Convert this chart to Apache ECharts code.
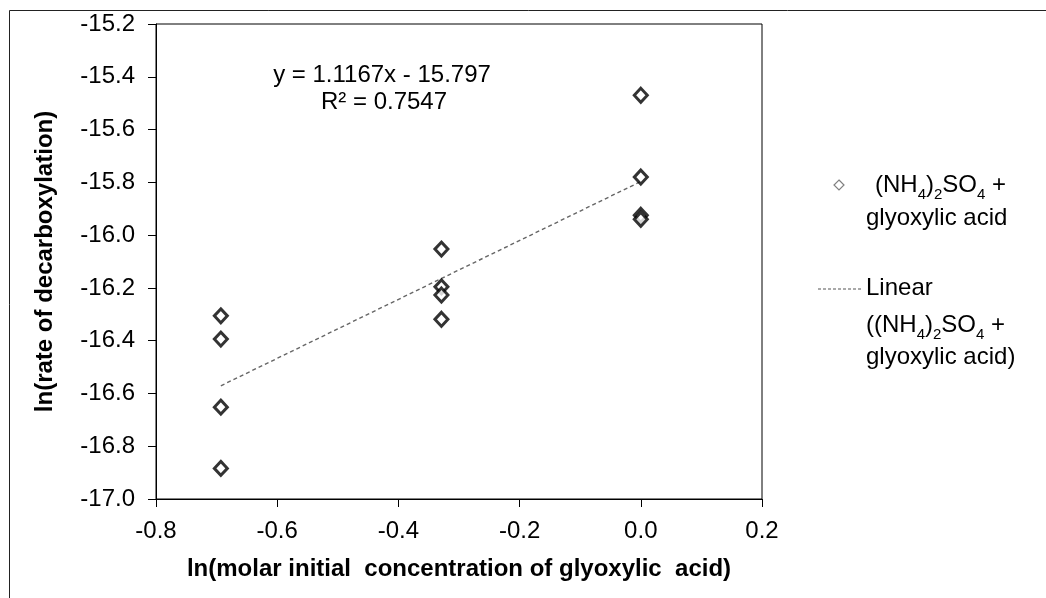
<!DOCTYPE html>
<html><head><meta charset="utf-8">
<script src="https://cdn.jsdelivr.net/npm/echarts@6/dist/echarts.min.js"></script>
<style>html,body{margin:0;padding:0;background:#fff}#c{width:1046px;height:598px}</style>
</head><body><div id="c"></div>
<script>
// Data
const xLn = [-0.693, -0.693, -0.693, -0.693, -0.329, -0.329, -0.329, -0.329, 0, 0, 0, 0];
const yLnRate = [-16.306, -16.394, -16.652, -16.884, -16.053, -16.196, -16.227, -16.319, -15.47, -15.78, -15.925, -15.94];
const trendSlope = 1.1167;
const trendIntercept = -15.797;
const equationLines = ['y = 1.1167x - 15.797', 'R² = 0.7547'];
const xTitle = 'ln(molar initial  concentration of glyoxylic  acid)';
const yTitle = 'ln(rate of decarboxylation)';

const pts = xLn.map((x, i) => [x, yLnRate[i]]);
const xMinD = Math.min(...xLn), xMaxD = Math.max(...xLn);
const trend = [[xMinD, trendSlope * xMinD + trendIntercept], [xMaxD, trendSlope * xMaxD + trendIntercept]];

const FONT = '"Liberation Sans", Arial, sans-serif';
const FS = 24;
const chart = echarts.init(document.getElementById('c'), null, {renderer: 'canvas'});
const rich = {
  n: {fontSize: FS, fontFamily: FONT, color: '#000'},
  s: {fontSize: 15, fontFamily: FONT, color: '#000', verticalAlign: 'bottom', padding: [0, 0, -5, 0]}
};
chart.setOption({
  animation: false,
  backgroundColor: '#fff',
  grid: {left: 156, right: 284, top: 24, bottom: 99, show: true, borderColor: '#000', borderWidth: 1},
  xAxis: {
    type: 'value', min: -0.8, max: 0.2, interval: 0.2,
    name: xTitle, nameLocation: 'middle', nameGap: 58,
    nameTextStyle: {fontFamily: FONT, fontSize: 24, fontWeight: 'bold', color: '#000'},
    axisLine: {show: true, onZero: false, lineStyle: {color: '#000', width: 1}},
    axisTick: {show: true, inside: false, length: 8, lineStyle: {color: '#000'}},
    axisLabel: {fontFamily: FONT, fontSize: FS, color: '#000', margin: 20, formatter: v => v.toFixed(1)},
    splitLine: {show: false}
  },
  yAxis: {
    type: 'value', min: -17, max: -15.2, interval: 0.2,
    name: yTitle, nameLocation: 'middle', nameGap: 99,
    nameTextStyle: {fontFamily: FONT, fontSize: 24, fontWeight: 'bold', color: '#000'},
    axisLine: {show: true, onZero: false, lineStyle: {color: '#000', width: 1}},
    axisTick: {show: true, inside: false, length: 8, lineStyle: {color: '#000'}},
    axisLabel: {fontFamily: FONT, fontSize: FS, color: '#000', margin: 21, formatter: v => v.toFixed(1)},
    splitLine: {show: false}
  },
  series: [
    {
      type: 'line', data: trend, symbol: 'none', silent: true, z: 1,
      lineStyle: {color: '#666', width: 1.4, type: [4, 3]}
    },
    {
      type: 'scatter', data: pts, symbol: 'diamond', symbolSize: [13, 14], z: 3,
      itemStyle: {color: '#fff', borderColor: '#000', borderWidth: 3}
    }
  ],
  graphic: [
    {type: 'rect', x: 9.5, y: 10.5, shape: {x: 0, y: 0, width: 1100, height: 700}, silent: true, z: -10,
      style: {fill: 'none', stroke: '#222', lineWidth: 1}},
    {type: 'text', x: 382, y: 75, style: {text: equationLines[0], font: FS + 'px ' + FONT, fill: '#000', textAlign: 'center', textVerticalAlign: 'middle'}},
    {type: 'text', x: 384, y: 102, style: {text: equationLines[1], font: FS + 'px ' + FONT, fill: '#000', textAlign: 'center', textVerticalAlign: 'middle'}},
    {type: 'polygon', shape: {points: [[839, 180], [844, 185], [839, 190], [834, 185]]}, style: {fill: '#fff', stroke: '#808080', lineWidth: 1.2}},
    {type: 'text', x: 875, y: 185, style: {text: '{n|(NH}{s|4}{n|)}{s|2}{n|SO}{s|4}{n| +}', rich: rich, textVerticalAlign: 'middle'}},
    {type: 'text', x: 866, y: 218, style: {text: 'glyoxylic acid', font: FS + 'px ' + FONT, fill: '#000', textVerticalAlign: 'middle'}},
    {type: 'line', shape: {x1: 818, y1: 289, x2: 862, y2: 289}, style: {stroke: '#555', lineWidth: 1.2, lineDash: [3, 2]}},
    {type: 'text', x: 866, y: 288, style: {text: 'Linear', font: FS + 'px ' + FONT, fill: '#000', textVerticalAlign: 'middle'}},
    {type: 'text', x: 866, y: 325, style: {text: '{n|((NH}{s|4}{n|)}{s|2}{n|SO}{s|4}{n| +}', rich: rich, textVerticalAlign: 'middle'}},
    {type: 'text', x: 866, y: 357, style: {text: 'glyoxylic acid)', font: FS + 'px ' + FONT, fill: '#000', textVerticalAlign: 'middle'}}
  ]
});
</script></body></html>
